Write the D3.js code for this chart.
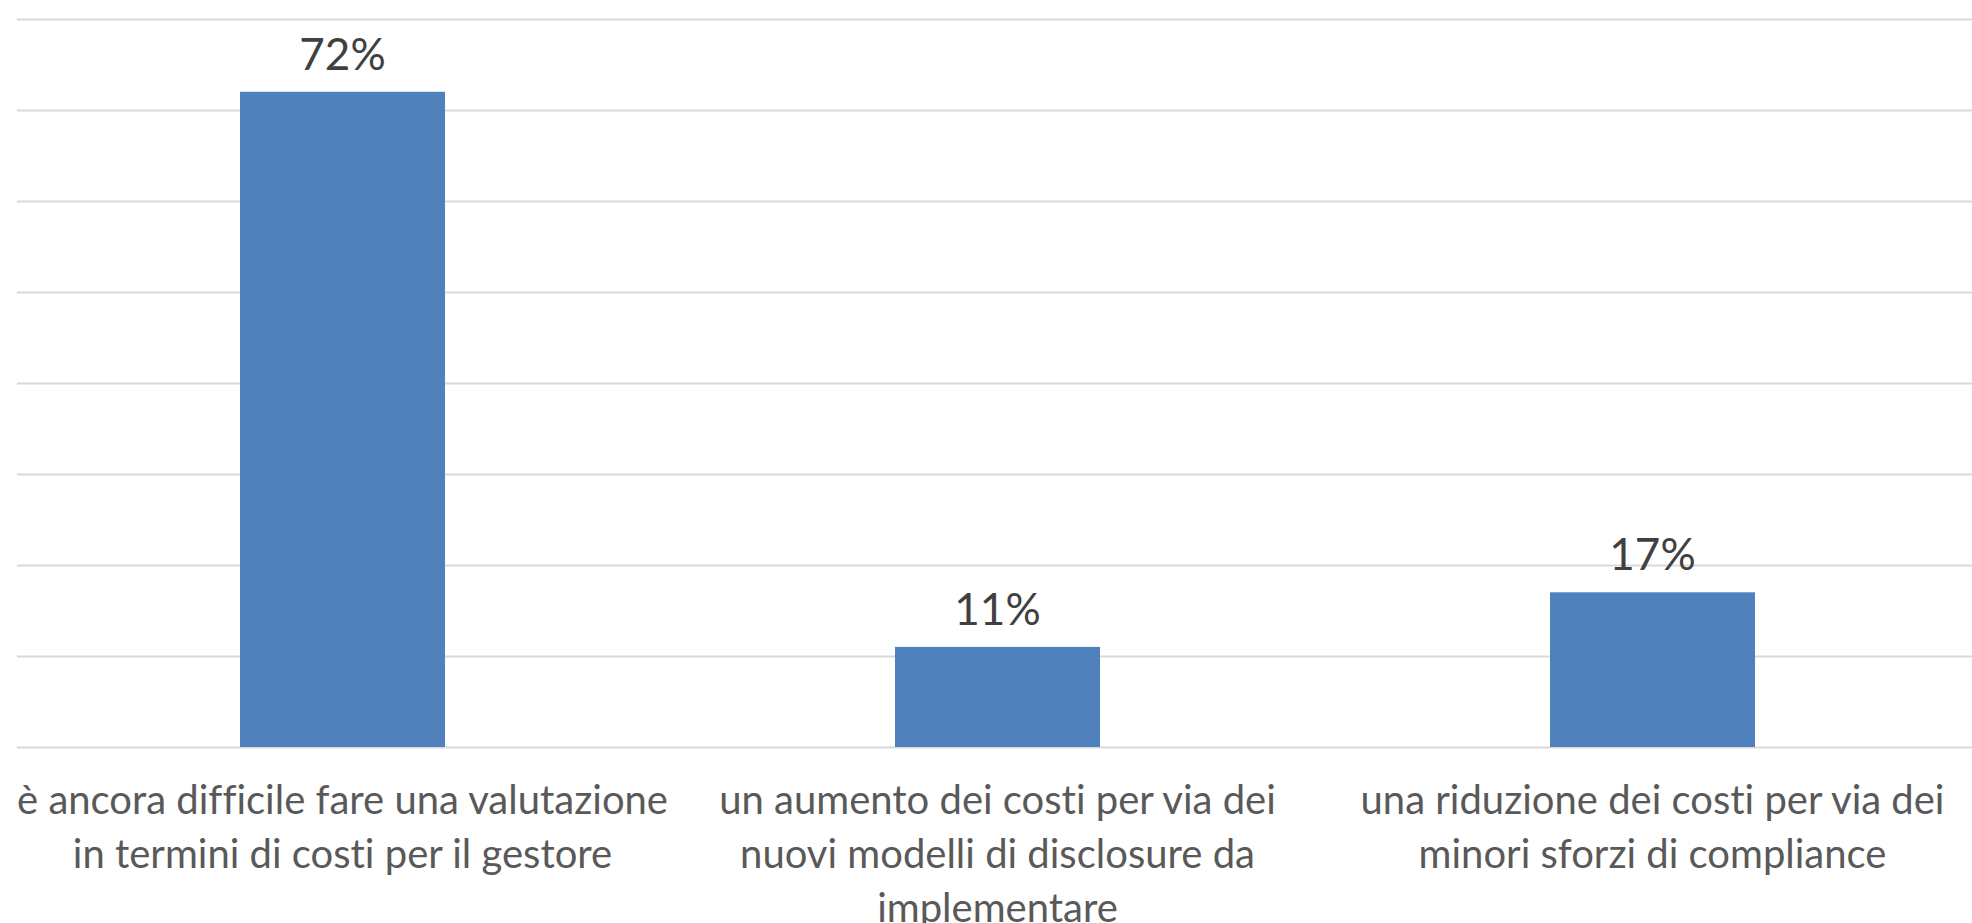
<!DOCTYPE html>
<meta charset="utf-8">
<html>
<style>
body { margin: 0; background: #fff; }
.grid line { stroke: #d9d9d9; stroke-width: 2px; }
.grid .domain { display: none; }
.bar { fill: #4f81bd; }
text { font-family: Lato, "Open Sans", sans-serif; font-variant-ligatures: none; font-feature-settings: "liga" 0, "dlig" 0; }
.value { fill: #404040; font-size: 44px; }
.cat { fill: #595959; font-size: 40px; }
</style>
<body>
<script src="https://cdnjs.cloudflare.com/ajax/libs/d3/7.8.5/d3.min.js"></script>
<script>
	var categories = ["valutazione", "aumento", "riduzione"];
	var categoryLines = [
		["è ancora difficile fare una valutazione", "in termini di costi per il gestore"],
		["un aumento dei costi per via dei", "nuovi modelli di disclosure da", "implementare"],
		["una riduzione dei costi per via dei", "minori sforzi di compliance"]
	];
	var values = [0.72, 0.11, 0.17];
	var gridTicks = [0, 0.1, 0.2, 0.3, 0.4, 0.5, 0.6, 0.7, 0.8];

	var width = 1972;
	var height = 923;
	var plotLeft = 17;
	var baseline = 747;
	var plotTop = 19;

	var svg = d3.select("body")
				.append("svg")
				.attr("width", width)
				.attr("height", height);

	var x = d3.scaleBand()
		.domain(categories)
		.range([15, 1980])
		.paddingInner(0.687)
		.paddingOuter(0.3435);

	var y = d3.scaleLinear()
		.domain([0, 0.8])
		.range([baseline, plotTop]);

	// horizontal gridlines
	svg.append("g")
		.attr("class", "grid")
		.attr("transform", "translate(" + plotLeft + ",0)")
		.call(d3.axisLeft(y).tickValues(gridTicks).tickSize(-(width - plotLeft)).tickFormat(""));

	svg.selectAll("rect.bar")
		.data(values)
		.enter()
		.append("rect")
		.attr("class", "bar")
		.attr("x", (d, i) => x(categories[i]))
		.attr("y", d => y(d))
		.attr("width", x.bandwidth())
		.attr("height", d => baseline - y(d));

	svg.selectAll("text.value")
		.data(values)
		.enter()
		.append("text")
		.attr("class", "value")
		.attr("text-anchor", "middle")
		.attr("x", (d, i) => x(categories[i]) + x.bandwidth() / 2)
		.attr("y", d => y(d) - 22)
		.text(d => Math.round(d * 100) + "%");

	var labels = svg.selectAll("text.cat")
		.data(categoryLines)
		.enter()
		.append("text")
		.attr("class", "cat")
		.attr("text-anchor", "middle")
		.attr("transform", (d, i) => "translate(" + (x(categories[i]) + x.bandwidth() / 2) + ",814)");

	labels.selectAll("tspan")
		.data(d => d)
		.enter()
		.append("tspan")
		.attr("x", 0)
		.attr("y", (d, i) => i * 54)
		.text(d => d);
</script>
</body>
</html>
